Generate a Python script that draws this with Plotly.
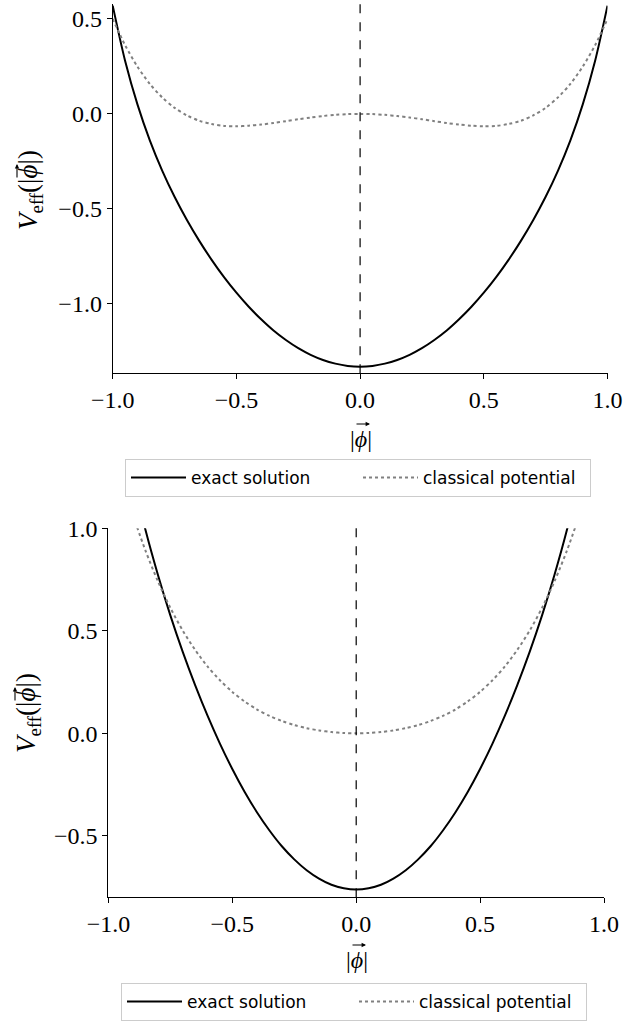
import plotly.graph_objects as go

# ---------------- data ----------------
top_x = [-1.00, -0.95, -0.90, -0.85, -0.80, -0.75, -0.70, -0.65, -0.60, -0.55, -0.50,
         -0.45, -0.40, -0.35, -0.30, -0.25, -0.20, -0.15, -0.10, -0.05, 0.00,
         0.05, 0.10, 0.15, 0.20, 0.25, 0.30, 0.35, 0.40, 0.45, 0.50,
         0.55, 0.60, 0.65, 0.70, 0.75, 0.80, 0.85, 0.90, 0.95, 1.00]
top_exact = [0.570, 0.280, 0.050, -0.139, -0.298, -0.436, -0.558, -0.668, -0.768, -0.859, -0.941,
             -1.015, -1.081, -1.140, -1.190, -1.233, -1.268, -1.295, -1.314, -1.326, -1.330,
             -1.326, -1.314, -1.295, -1.268, -1.233, -1.190, -1.140, -1.081, -1.015, -0.941,
             -0.859, -0.768, -0.668, -0.558, -0.436, -0.298, -0.139, 0.050, 0.280, 0.570]
top_classical = [0.500, 0.362, 0.249, 0.158, 0.087, 0.032, -0.008, -0.036, -0.053, -0.063, -0.065,
                 -0.062, -0.056, -0.048, -0.038, -0.028, -0.019, -0.011, -0.005, -0.001, 0.000,
                 -0.001, -0.005, -0.011, -0.019, -0.028, -0.038, -0.048, -0.056, -0.062, -0.065,
                 -0.063, -0.053, -0.036, -0.008, 0.032, 0.087, 0.158, 0.249, 0.362, 0.500]

bot_x = [-0.90, -0.85, -0.80, -0.75, -0.70, -0.65, -0.60, -0.55, -0.50, -0.45,
         -0.40, -0.35, -0.30, -0.25, -0.20, -0.15, -0.10, -0.05, 0.00,
         0.05, 0.10, 0.15, 0.20, 0.25, 0.30, 0.35, 0.40, 0.45,
         0.50, 0.55, 0.60, 0.65, 0.70, 0.75, 0.80, 0.85, 0.90]
bot_exact = [1.239, 0.990, 0.772, 0.575, 0.397, 0.235, 0.086, -0.050, -0.174, -0.286,
             -0.386, -0.474, -0.551, -0.615, -0.668, -0.709, -0.739, -0.756, -0.762,
             -0.756, -0.739, -0.709, -0.668, -0.615, -0.551, -0.474, -0.386, -0.286,
             -0.174, -0.050, 0.086, 0.235, 0.397, 0.575, 0.772, 0.990, 1.239]
bot_classical = [1.061, 0.890, 0.741, 0.612, 0.501, 0.407, 0.326, 0.259, 0.202, 0.155,
                 0.116, 0.085, 0.060, 0.040, 0.025, 0.014, 0.006, 0.0015, 0.000,
                 0.0015, 0.006, 0.014, 0.025, 0.040, 0.060, 0.085, 0.116, 0.155,
                 0.202, 0.259, 0.326, 0.407, 0.501, 0.612, 0.741, 0.890, 1.061]

x_tickvals = [-1.0, -0.5, 0.0, 0.5, 1.0]
x_ticktext = ["\u22121.0", "\u22120.5", "0.0", "0.5", "1.0"]
top_y_tickvals = [-1.0, -0.5, 0.0, 0.5]
top_y_ticktext = ["\u22121.0", "\u22120.5", "0.0", "0.5"]
bot_y_tickvals = [-0.5, 0.0, 0.5, 1.0]
bot_y_ticktext = ["\u22120.5", "0.0", "0.5", "1.0"]

series_names = ["exact solution", "classical potential"]

# ---------------- figure ----------------
W, H = 623, 1021
SERIF = "Liberation Serif, DejaVu Serif, serif"
SANS = "DejaVu Sans, sans-serif"

fig = go.Figure()

fig.add_trace(go.Scatter(x=top_x, y=top_exact, mode="lines", name=series_names[0],
                         line=dict(color="black", width=2, shape="spline", smoothing=0.8),
                         xaxis="x", yaxis="y", legend="legend"))
fig.add_trace(go.Scatter(x=top_x, y=top_classical, mode="lines", name=series_names[1],
                         line=dict(color="#808080", width=2, dash="dot", shape="spline", smoothing=0.8),
                         xaxis="x", yaxis="y", legend="legend"))
fig.add_trace(go.Scatter(x=bot_x, y=bot_exact, mode="lines", name=series_names[0],
                         line=dict(color="black", width=2, shape="spline", smoothing=0.8),
                         xaxis="x2", yaxis="y2", legend="legend2"))
fig.add_trace(go.Scatter(x=bot_x, y=bot_classical, mode="lines", name=series_names[1],
                         line=dict(color="#808080", width=2, dash="dot", shape="spline", smoothing=0.8),
                         xaxis="x2", yaxis="y2", legend="legend2"))

axis_common = dict(showgrid=False, zeroline=False, showline=True, linecolor="black", linewidth=1,
                   ticks="outside", ticklen=5, tickwidth=1, tickcolor="black", automargin=False,
                   tickfont=dict(family=SERIF, size=24, color="black"), mirror=False)

legend_common = dict(orientation="h", xanchor="left", yanchor="top",
                     bgcolor="white", bordercolor="#cccccc", borderwidth=1,
                     font=dict(family=SANS, size=17, color="black"),
                     itemwidth=55, entrywidth=162, entrywidthmode="pixels")

fig.update_layout(
    template="none",
    width=W, height=H,
    margin=dict(l=0, r=0, t=0, b=0, autoexpand=False),
    paper_bgcolor="white", plot_bgcolor="white",
    xaxis=dict(domain=[112.7 / W, 607.5 / W], range=[-1.0, 1.0], anchor="y",
               tickvals=x_tickvals, ticktext=x_ticktext, **axis_common),
    yaxis=dict(domain=[1 - 373.3 / H, 1 - 3.7 / H], range=[-1.365, 0.58], anchor="x",
               tickvals=top_y_tickvals, ticktext=top_y_ticktext, **axis_common),
    xaxis2=dict(domain=[108.4 / W, 604.0 / W], range=[-1.0, 1.0], anchor="y2",
                tickvals=x_tickvals, ticktext=x_ticktext, **axis_common),
    yaxis2=dict(domain=[1 - 897.3 / H, 1 - 528.3 / H], range=[-0.80, 1.0], anchor="x2",
                tickvals=bot_y_tickvals, ticktext=bot_y_ticktext, **axis_common),
    legend=dict(x=125 / W, y=1 - 459 / H, **legend_common),
    legend2=dict(x=121 / W, y=1 - 983 / H, **legend_common),
    showlegend=True,
)

# vertical dashed lines at 0
for xr, yr in (("x", "y domain"), ("x2", "y2 domain")):
    fig.add_shape(type="line", xref=xr, yref=yr, x0=0, x1=0, y0=0, y1=1,
                  line=dict(color="black", width=1.2, dash="dash"), layer="above")

ytitle = "<i>V</i><sub>eff</sub>(|<i>\u03d5</i>|)"
xtitle = "|<i>\u03d5</i>|"


def px(xp, yp):
    return xp / W, 1 - yp / H


def vec_arrow(x_head, y_head, dx, dy):
    """small vector arrow drawn with an annotation arrow (tail offset dx, dy in px)"""
    x, y = px(x_head, y_head)
    fig.add_annotation(text="", xref="paper", yref="paper", x=x, y=y, ax=dx, ay=dy,
                       showarrow=True, arrowhead=2, arrowsize=0.8, arrowwidth=1.1,
                       arrowcolor="black", standoff=0, startstandoff=0)


# x-axis titles (+ vector arrows)
for cx, cy in ((361, 439), (357, 960)):
    x, y = px(cx, cy)
    fig.add_annotation(text=xtitle, xref="paper", yref="paper", x=x, y=y,
                       xanchor="center", yanchor="middle", showarrow=False,
                       font=dict(family=SERIF, size=24, color="black"))
    vec_arrow(cx + 9, cy - 15, -15, 0)

# y-axis titles (+ vector arrows)
for cx, cy in ((30, 190), (28, 713)):
    x, y = px(cx, cy)
    fig.add_annotation(text=ytitle, xref="paper", yref="paper", x=x, y=y,
                       xanchor="center", yanchor="middle", showarrow=False, textangle=-90,
                       font=dict(family=SERIF, size=27, color="black"))
    phy = cy - 18
    vec_arrow(cx - 13, phy - 8, 0, 15)

fig.write_html("out.html")
